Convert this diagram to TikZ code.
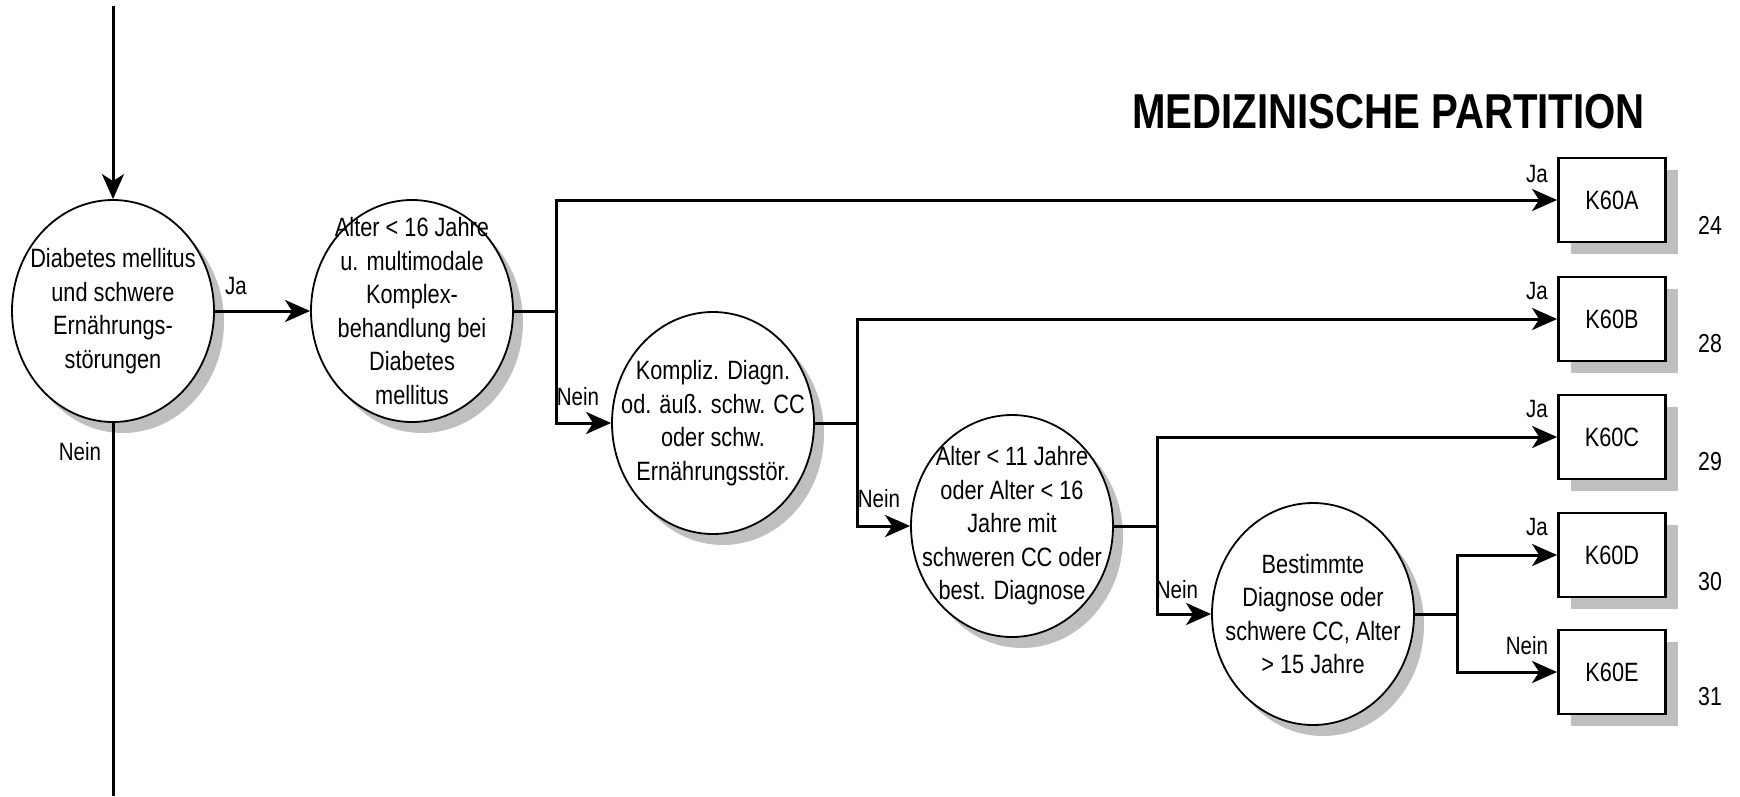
\documentclass[tikz,border=0pt]{standalone}
\usepackage{fontspec}
\setmainfont[FakeStretch=0.82]{Liberation Sans}
\usetikzlibrary{arrows.meta,shadows,shapes.geometric}
\begin{document}
\begin{tikzpicture}[x=1pt,y=-1pt,
  shadowstyle/.style={drop shadow={shadow xshift=10pt, shadow yshift=-11pt, fill=black!25, opacity=1}},
  decision/.style={ellipse, draw, line width=1.8pt, fill=white, minimum width=202pt, minimum height=222pt, inner sep=0pt, shadowstyle},
  ctext/.style={align=center, font=\fontsize{26.5}{33.5}\selectfont, inner sep=0pt},
  result/.style={draw, line width=2.8pt, fill=white, minimum width=107pt, minimum height=84pt, inner sep=0pt, font=\fontsize{26.5}{32}\selectfont, drop shadow={shadow xshift=12pt, shadow yshift=-12pt, fill=black!25, opacity=1}},
  conn/.style={line width=3pt},
  arr/.style={conn, -{Stealth[length=25pt,width=22pt,inset=7pt]}},
  lbl/.style={font=\fontsize{25}{30}\selectfont, inner sep=0pt},
  num/.style={font=\fontsize{26}{30}\selectfont, inner sep=0pt},
]
\useasboundingbox (0,0) rectangle (1740,796);

% title
\node[anchor=base west, inner sep=0pt, font=\fontsize{49}{55}\bfseries] (title) at (1132,128) {MEDIZINISCHE PARTITION};

% decisions
\node[decision] (c1) at (113,311) {};
\node[ctext] (t1) at (c1) {Diabetes mellitus\\und schwere\\Ernährungs-\\störungen};
\node[decision] (c2) at (412,311) {};
\node[ctext] (t2) at (c2) {Alter < 16 Jahre\\u. multimodale\\Komplex-\\behandlung bei\\Diabetes\\mellitus};
\node[decision] (c3) at (713,423) {};
\node[ctext] (t3) at (c3) {Kompliz. Diagn.\\od. äuß. schw. CC\\oder schw.\\Ernährungsstör.};
\node[decision] (c4) at (1012,526) {};
\node[ctext] (t4) at (c4) {Alter < 11 Jahre\\oder Alter < 16\\Jahre mit\\schweren CC oder\\best. Diagnose};
\node[decision] (c5) at (1313,614) {};
\node[ctext] (t5) at (c5) {Bestimmte\\Diagnose oder\\schwere CC, Alter\\> 15 Jahre};

% results
\node[result] (ka) at (1612,200) {K60A};
\node[result] (kb) at (1612,319) {K60B};
\node[result] (kc) at (1612,437) {K60C};
\node[result] (kd) at (1612,555) {K60D};
\node[result] (ke) at (1612,672) {K60E};

% numbers
\node[num] (na) at (1710,225) {24};
\node[num] (nb) at (1710,344) {28};
\node[num] (nc) at (1710,462) {29};
\node[num] (nd) at (1710,582) {30};
\node[num] (ne) at (1710,697) {31};

% connectors
\coordinate (top) at (113,6);
\coordinate (bot) at (113,796);
\coordinate (b2) at (556,311);
\coordinate (b3) at (857,423);
\coordinate (b4) at (1157,526);
\coordinate (b5) at (1457,614);

\draw[arr] (top) -- (c1.north);
\draw[conn] (c1.south) -- (bot);
\draw[arr] (c1.east) -- (c2.west);

\draw[arr] (c2.east) -- (b2) |- (ka.west);
\draw[arr] (b2) |- (c3.west);
\draw[arr] (c3.east) -- (b3) |- (kb.west);
\draw[arr] (b3) |- (c4.west);
\draw[arr] (c4.east) -- (b4) |- (kc.west);
\draw[arr] (b4) |- (c5.west);
\draw[arr] (c5.east) -- (b5) |- (kd.west);
\draw[arr] (b5) |- (ke.west);

% labels
\node[lbl] (lja1) at (236,286) {Ja};
\node[lbl] (lnein1) at (80,452) {Nein};
\node[lbl] (lnein3) at (578,397) {Nein};
\node[lbl] (lnein4) at (879,499) {Nein};
\node[lbl] (lnein5) at (1177,590) {Nein};
\node[lbl] (ljaa) at (1537,174) {Ja};
\node[lbl] (ljab) at (1537,291) {Ja};
\node[lbl] (ljac) at (1537,409) {Ja};
\node[lbl] (ljad) at (1537,527) {Ja};
\node[lbl] (lneine) at (1527,646) {Nein};
\end{tikzpicture}
\end{document}
